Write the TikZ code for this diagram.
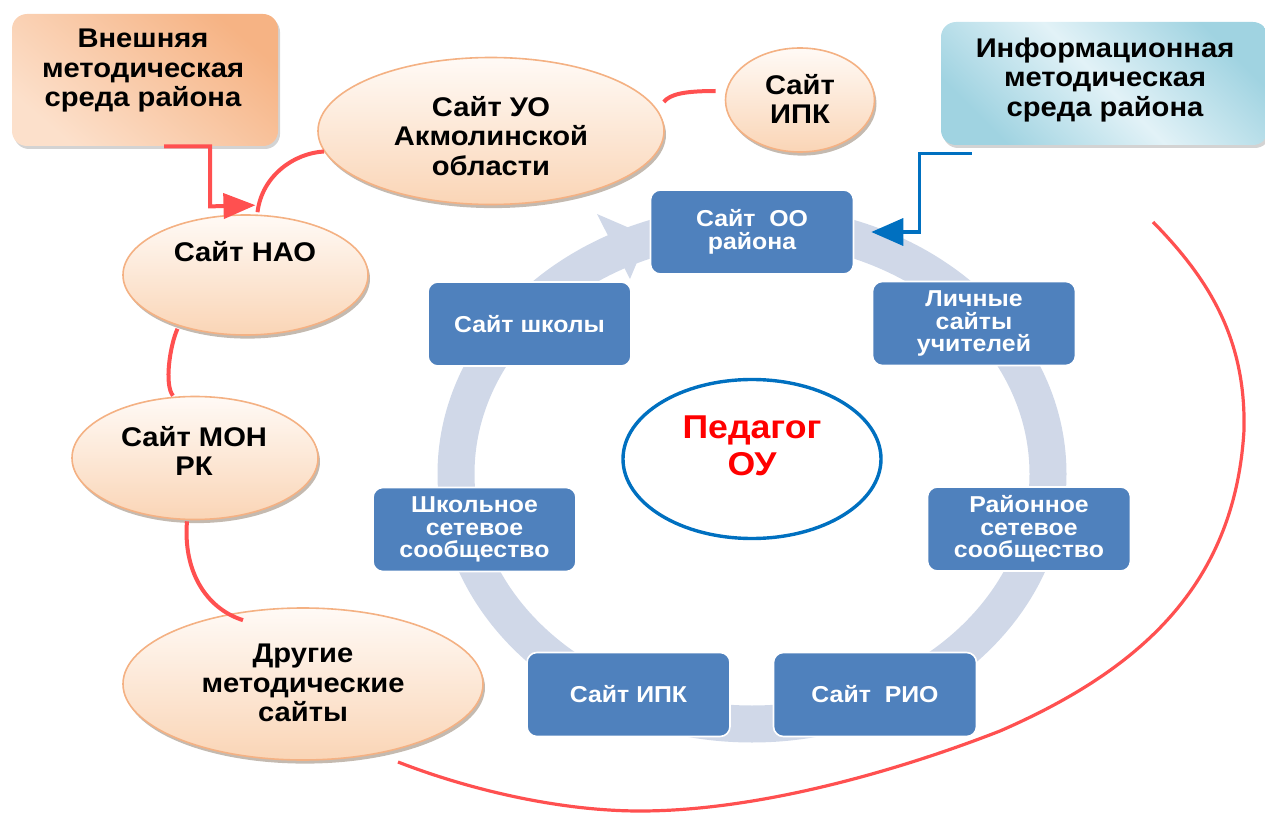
\documentclass[tikz,border=0pt]{standalone}
\usepackage{fontspec}
\setmainfont{Liberation Sans}[FakeStretch=1.08]
\usetikzlibrary{shapes.geometric,arrows.meta,shadows,calc}
\definecolor{boxblue}{HTML}{4F81BD}
\definecolor{ringgray}{HTML}{D0D8E8}
\definecolor{redc}{HTML}{FF5050}
\definecolor{linkblue}{HTML}{0070C0}
\definecolor{peachtop}{HTML}{FFFAF6}
\definecolor{peachbot}{HTML}{FAD5B6}
\definecolor{peachedge}{HTML}{F4B183}
\definecolor{orgdark}{HTML}{F6B384}
\definecolor{orglight}{HTML}{FCE0CB}
\definecolor{cyandark}{HTML}{A0D3E1}
\definecolor{cyanlight}{HTML}{E2F2F7}
\definecolor{pedred}{HTML}{FF0000}
\begin{document}
\begin{tikzpicture}[x=0.5pt,y=-0.5pt,
  peach/.style={ellipse, inner sep=0pt, draw=peachedge, line width=0.8pt,
    top color=peachtop, bottom color=peachbot,
    drop shadow={shadow xshift=1pt, shadow yshift=-1.8pt, opacity=0.35, fill=black!55!brown}},
  bluebox/.style={rectangle, rounded corners=5pt, fill=boxblue, draw=white, line width=0.8pt,
    minimum width=101.5pt, minimum height=42pt, inner sep=0pt, text=white,
    font=\bfseries\fontsize{11.5}{11.25}\selectfont, align=center},
  blacktxt/.style={inner sep=0pt, align=center, font=\bfseries\fontsize{13.5}{14.75}\selectfont},
  redlink/.style={draw=redc, line width=2pt},
  bluelink/.style={draw=linkblue, line width=1.8pt},
  envbox/.style={rectangle, rounded corners=7.5pt, inner sep=0pt,
    drop shadow={shadow xshift=1pt, shadow yshift=-1.5pt, opacity=0.35, fill=gray}}
]
\useasboundingbox (0,0) rectangle (1265,813);

% cycle ring
\draw[ringgray, line width=18.5pt] (752,474) ellipse [x radius=148pt, y radius=125pt];
\fill[ringgray] (597,214) -- (648,236) -- (630,279) -- cycle;

% environment boxes
\node[envbox, minimum width=133pt, minimum height=66pt,
  top color=orgdark, bottom color=orglight, shading angle=-40] (vn) at (145,80) {};
\node[blacktxt] (vnt) at (143,71) {Внешняя\\методическая\\среда района};

\node[envbox, minimum width=163.5pt, minimum height=61.5pt,
  top color=cyandark, bottom color=cyandark, middle color=cyanlight, shading angle=-45] (info) at (1104.5,83.5) {};
\node[blacktxt] (infot) at (1105,80) {Информационная\\методическая\\среда района};

% peach ellipses
\node[peach, minimum width=173pt, minimum height=73.5pt] (uo) at (491,131) {};
\node[blacktxt] (uot) at (491,136) {Сайт УО\\Акмолинской\\области};
\node[peach, minimum width=74.5pt, minimum height=52pt] (ipk) at (800,100) {};
\node[blacktxt] (ipkt) at (800,99) {Сайт\\ИПК};
\node[peach, minimum width=122.5pt, minimum height=60pt] (nao) at (245.5,275) {};
\node[blacktxt] (naot) at (245,252) {Сайт НАО};
\node[peach, minimum width=123pt, minimum height=61.5pt] (mon) at (195,458) {};
\node[blacktxt] (mont) at (194,451) {Сайт МОН\\РК};
\node[peach, minimum width=180pt, minimum height=76pt] (dr) at (303,684) {};
\node[blacktxt] (drt) at (303,683) {Другие\\методические\\сайты};

% cycle boxes
\node[bluebox] (oo) at (752,232) {Сайт\ \ ОО\\района};
\node[bluebox] (lich) at (974,323.5) {Личные\\сайты\\учителей};
\node[bluebox] (rayon) at (1029,529) {Районное\\сетевое\\сообщество};
\node[bluebox] (rio) at (875,694.5) {Сайт\ \ РИО};
\node[bluebox] (ipkb) at (628.5,694.5) {Сайт ИПК};
\node[bluebox] (shkol) at (474.5,529.5) {Школьное\\сетевое\\сообщество};
\node[bluebox] (shk) at (529.5,324) {Сайт школы};

% center
\node[ellipse, draw=linkblue, line width=1.7pt, fill=white, inner sep=0pt,
  minimum width=129pt, minimum height=79.5pt] (ped) at (752,459) {};
\node[inner sep=0pt, align=center, text=pedred, font=\bfseries\fontsize{16.5}{18.5}\selectfont] (pedt) at (752,446) {Педагог\\ОУ};

% red connectors
\draw[redlink, -{Triangle[length=16pt,width=12.5pt]}]
  ($(vn.south)+(19,0)$) -| ($(vn.south)+(65,60)$) -- ($(nao.north)+(10,-9)$);
\draw[redlink] ($(nao.north)+(12,-2)$) .. controls (262,175) and (295,153) .. (uo.187);
\draw[redlink] ($(uo.east)+(-1,-29)$) .. controls (670,94) and (685,91) .. ($(ipk.west)+(-9,-9)$);
\draw[redlink] ($(nao.south)+(-68,-7)$) .. controls (170,345) and (164,385) .. ($(mon.north)+(-22,0)$);
\draw[redlink] ($(mon.south)+(-8,1)$) .. controls (183,570) and (205,608) .. ($(dr.north)+(-60,13)$);

\coordinate (arcA) at (398,762);
\coordinate (arcB) at (1153,222);
\draw[redc, line width=1.6pt] (arcA) .. controls (470,790) and (560,811) .. (640,811)
  .. controls (760,811) and (900,770) .. (1000,731)
  .. controls (1140,670) and (1235,585) .. (1244,430)
  .. controls (1246,340) and (1210,280) .. (arcB);

% blue connector
\draw[bluelink, -{Triangle[length=16pt,width=13.5pt]}]
  ($(info.south west)+(31,8)$) -- ++(-52,0) |- ($(oo.east)+(17,0)$);
\end{tikzpicture}
\end{document}
